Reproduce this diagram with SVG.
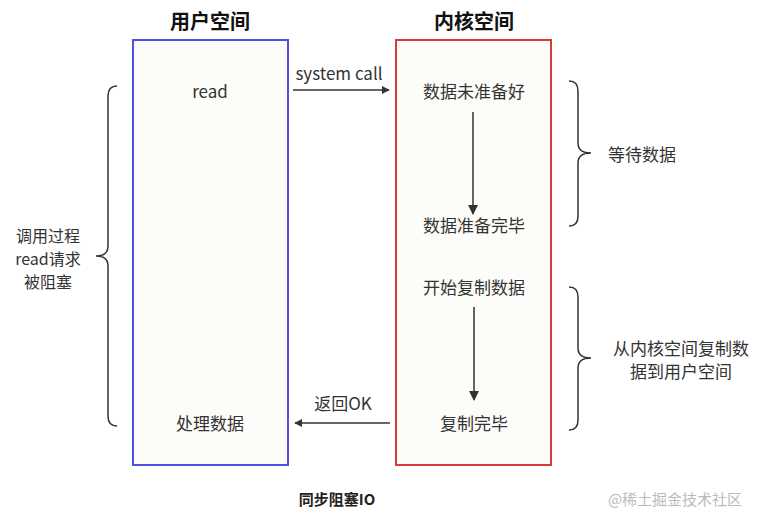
<svg xmlns="http://www.w3.org/2000/svg" width="766" height="526" viewBox="0 0 766 526">
<style>
text{font-family:"Noto Sans CJK SC","Liberation Sans",sans-serif;fill:#333;font-size:17px;text-anchor:middle}
.t{font-weight:bold;font-size:20px;fill:#111}
.s{font-size:16px}
.ln{stroke:#333;stroke-width:1.5;fill:none}
</style>
<defs><marker id="a" viewBox="0 0 10 10" refX="9" refY="5" markerWidth="8" markerHeight="8" markerUnits="userSpaceOnUse" orient="auto"><path d="M0,0L10,5L0,10z" fill="#333"/></marker>
<marker id="b" viewBox="0 0 10 10" refX="9" refY="5" markerWidth="10" markerHeight="14" markerUnits="userSpaceOnUse" orient="auto"><path d="M0,0L10,5L0,10z" fill="#333"/></marker></defs>
<rect width="766" height="526" fill="#fff"/>
<g id="user"><rect x="133" y="40" width="155" height="425" fill="#fcfcf9" stroke="#5050e0" stroke-width="2"/>
<text class="t" x="210" y="29">用户空间</text><text x="210" y="98">read</text><text x="210" y="430">处理数据</text></g>
<g id="kernel"><rect x="396" y="40" width="155" height="425" fill="#fcfcf9" stroke="#d83a3a" stroke-width="2"/>
<text class="t" x="474" y="29">内核空间</text>
<text x="474" y="98">数据未准备好</text><text x="474" y="232">数据准备完毕</text><text x="474" y="294">开始复制数据</text><text x="474" y="430">复制完毕</text></g>
<g id="connectors">
<line class="ln" x1="293" y1="90" x2="389" y2="90" marker-end="url(#a)"/>
<line class="ln" x1="390" y1="423" x2="295" y2="423" marker-end="url(#a)"/>
<line class="ln" x1="473" y1="112" x2="473" y2="214" marker-end="url(#b)"/>
<line class="ln" x1="474" y1="307" x2="474" y2="400" marker-end="url(#b)"/>
<path class="ln" d="M117,86 Q108,86 108,96 L108,246 Q108,256 96,256 Q108,256 108,266 L108,416 Q108,426 117,426"/>
<path class="ln" d="M569,81 Q578,81 578,91 L578,143 Q578,153 591,153 Q578,153 578,163 L578,216 Q578,226 569,226"/>
<path class="ln" d="M569,287 Q578,287 578,297 L578,348 Q578,358 591,358 Q578,358 578,368 L578,420 Q578,430 569,430"/>
</g>
<g id="labels">
<text x="339" y="80">system call</text><text x="343" y="410">返回OK</text>
<text class="s" x="48" y="242">调用过程</text><text class="s" x="48" y="265">read请求</text><text class="s" x="48" y="288">被阻塞</text>
<text x="642" y="161">等待数据</text>
<text x="681" y="355">从内核空间复制数</text><text x="681" y="378">据到用户空间</text>
<text x="337" y="505" style="font-weight:bold;font-size:15px;fill:#222">同步阻塞IO</text>
<text x="675" y="505" style="font-size:15px;fill:#bbb">@稀土掘金技术社区</text>
</g>
</svg>
